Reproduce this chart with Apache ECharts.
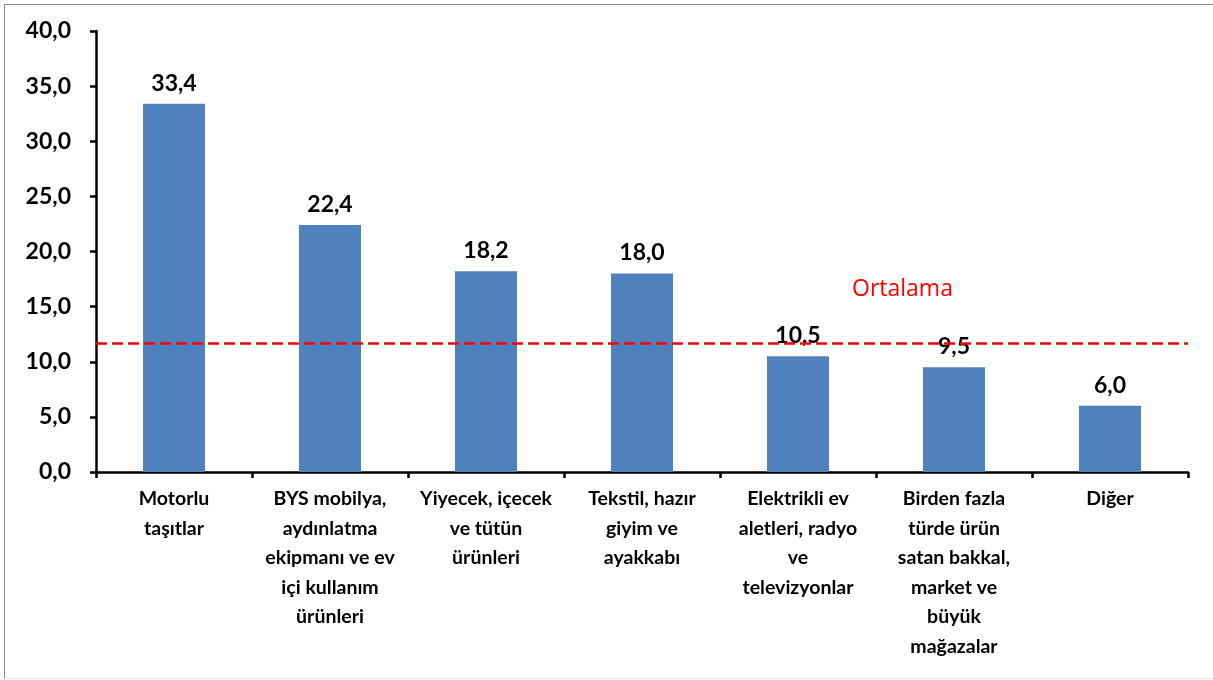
<!DOCTYPE html>
<html><head><meta charset="utf-8">
<script src="https://cdn.jsdelivr.net/npm/echarts@6/dist/echarts.min.js"></script>
<style>html,body{margin:0;padding:0;background:#fff;overflow:hidden}#c{width:1213px;height:680px}
#b{position:absolute;left:4px;top:4px;width:1212px;height:673px;border:1px solid #8c8c8c;border-bottom-color:#e4e4e4;pointer-events:none}</style>
</head><body><div id="c"></div><div id="b"></div>
<script>
const categories = ["Motorlu\ntaşıtlar","BYS mobilya,\naydınlatma\nekipmanı ve ev\niçi kullanım\nürünleri","Yiyecek, içecek\nve tütün\nürünleri","Tekstil, hazır\ngiyim ve\nayakkabı","Elektrikli ev\naletleri, radyo\nve\ntelevizyonlar","Birden fazla\ntürde ürün\nsatan bakkal,\nmarket ve\nbüyük\nmağazalar","Diğer"];
const values = [33.4, 22.4, 18.2, 18.0, 10.5, 9.5, 6.0];
const average = 11.7;
const averageLabel = "Ortalama";
const fmt = v => Number(v).toFixed(1).replace('.', ',');
const FF = 'Lato, "Open Sans", sans-serif';
const chart = echarts.init(document.getElementById('c'));
chart.setOption({
  animation:false,
  grid:{left:96,right:25,top:31,bottom:208,containLabel:false},
  xAxis:{type:'category',data:categories,
    axisLine:{lineStyle:{color:'#000',width:2.5}},
    axisTick:{show:true,alignWithLabel:false,length:6,lineStyle:{color:'#000',width:2.5}},
    axisLabel:{interval:0,color:'#000',fontFamily:FF,fontWeight:'bold',fontSize:19.5,lineHeight:29.5,margin:12}},
  yAxis:{type:'value',min:0,max:40,interval:5,splitLine:{show:false},
    axisLine:{show:true,lineStyle:{color:'#000',width:2.5}},
    axisTick:{show:true,length:6,lineStyle:{color:'#000',width:2.5}},
    axisLabel:{formatter:fmt,color:'#000',fontFamily:FF,fontWeight:'bold',fontSize:23,margin:25}},
  series:[{type:'bar',data:values,barWidth:62,
    itemStyle:{color:'#4F81BD'},
    label:{show:true,position:'top',distance:9,formatter:p=>fmt(p.value),color:'#000',fontFamily:FF,fontWeight:'bold',fontSize:23},
    markLine:{symbol:'none',silent:true,label:{show:false},
      lineStyle:{color:'#FF0000',type:[11,5],width:2.5},
      data:[{yAxis:average}]}
  }],
  graphic:[{type:'text',left:852,top:278,style:{text:averageLabel,fill:'#FF0000',font:'23px "Open Sans", sans-serif'}}]
});
</script></body></html>
